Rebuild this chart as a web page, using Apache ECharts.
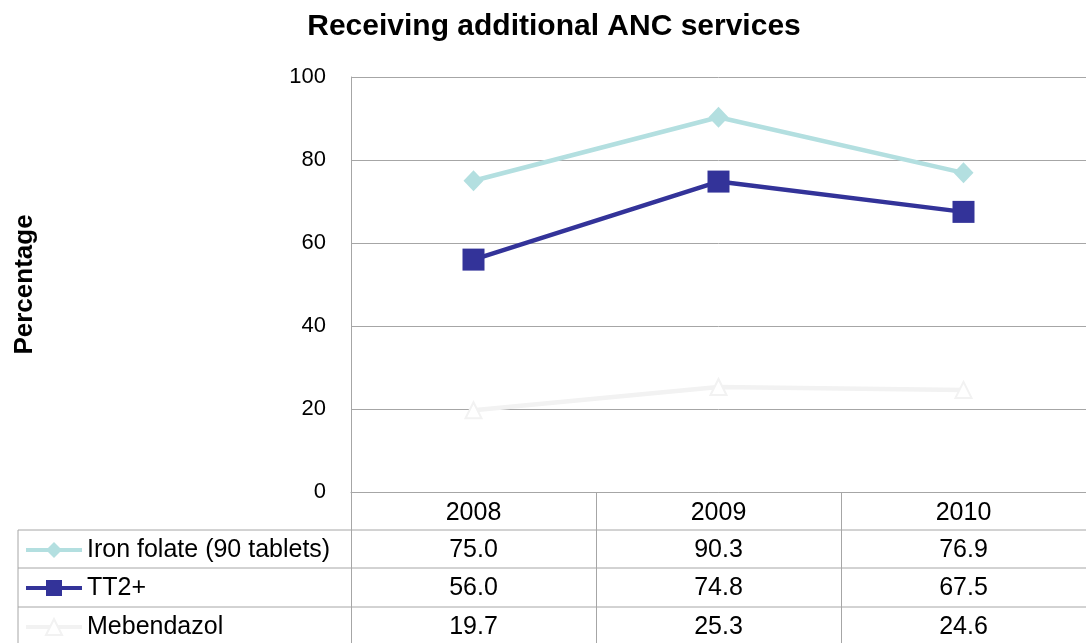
<!DOCTYPE html>
<html>
<head>
<meta charset="utf-8">
<script src="https://cdn.jsdelivr.net/npm/echarts@6/dist/echarts.min.js"></script>
<style>
html,body{margin:0;padding:0;background:#fff;}
#chart{width:1086px;height:643px;}
</style>
</head>
<body>
<div id="chart"></div>
<script>
const titleText = 'Receiving additional ANC services';
const yAxisName = 'Percentage';
const categories = ['2008', '2009', '2010'];
const seriesNames = ['Iron folate (90 tablets)', 'TT2+', 'Mebendazol'];
const ironFolate = [75.0, 90.3, 76.9];
const tt2 = [56.0, 74.8, 67.5];
const mebendazol = [19.7, 25.3, 24.6];
const yTicks = [0, 20, 40, 60, 80, 100];

const FONT = 'Liberation Sans, Arial, sans-serif';
const GRID_COLOR = '#a6a6a6';
const colors = ['#b3dfe0', '#333399', '#f2f2f2'];
const seriesData = [ironFolate, tt2, mebendazol];
const symbols = ['diamond', 'rect', 'triangle'];
const symbolSizes = [[20, 21], 22, 16];

const chart = echarts.init(document.getElementById('chart'), null, {renderer: 'canvas'});

const gridLeft = 351, gridTop = 77, gridWidth = 744, gridHeight = 415;
const rowY = [549, 587, 626];
const rowLines = [530, 568, 607];

const legends = seriesNames.map((n, i) => ({
  orient: 'vertical',
  left: 24, top: rowY[i] - 12,
  padding: 0,
  itemWidth: 56, itemHeight: 20,
  itemGap: 4,
  selectedMode: false,
  lineStyle: {width: 4},
  data: [n],
  textStyle: {fontFamily: FONT, fontSize: 25, color: '#000', lineHeight: 24, padding: [2, 0, 0, 0]}
}));

const option = {
  animation: false,
  backgroundColor: '#fff',
  title: {
    text: titleText,
    left: 549, top: 7, textAlign: 'center',
    textStyle: {fontFamily: FONT, fontSize: 30, fontWeight: 'bold', color: '#000'}
  },
  legend: legends,
  grid: {left: gridLeft, top: gridTop, width: gridWidth, height: gridHeight, containLabel: false},
  xAxis: {
    type: 'category',
    data: categories,
    boundaryGap: true,
    axisLine: {show: true, lineStyle: {color: GRID_COLOR, width: 1}},
    axisTick: {show: true, alignWithLabel: false, length: 160, lineStyle: {color: GRID_COLOR, width: 1}},
    axisLabel: {fontFamily: FONT, fontSize: 25, color: '#000', margin: 9},
    splitLine: {show: false}
  },
  yAxis: {
    type: 'value',
    min: 0, max: 100, interval: 20,
    name: yAxisName,
    nameLocation: 'middle',
    nameRotate: 90,
    nameGap: 313,
    nameTextStyle: {fontFamily: FONT, fontSize: 26, fontWeight: 'bold', color: '#000'},
    axisLine: {show: true, lineStyle: {color: GRID_COLOR, width: 1}},
    axisTick: {show: false},
    axisLabel: {fontFamily: FONT, fontSize: 22, color: '#000', margin: 25,
      formatter: v => yTicks.includes(v) ? String(v) : ''},
    splitLine: {show: true, lineStyle: {color: GRID_COLOR, width: 1}}
  },
  series: seriesNames.map((n, i) => ({
    name: n,
    type: 'line',
    data: seriesData[i],
    symbol: symbols[i],
    symbolSize: symbolSizes[i],
    showAllSymbol: true,
    lineStyle: {color: colors[i], width: 4.5},
    itemStyle: i === 2 ? {color: '#fff', borderColor: colors[i], borderWidth: 2} : {color: colors[i], borderWidth: 0},
    z: 3 - i
  }))
};
chart.setOption(option);

// table rows (horizontal lines, left border, values)
const graphics = [];
rowLines.forEach(y => {
  graphics.push({type: 'line', shape: {x1: 18, y1: y, x2: 1086, y2: y}, style: {stroke: GRID_COLOR, lineWidth: 1}, silent: true});
});
graphics.push({type: 'line', shape: {x1: 18, y1: rowLines[0], x2: 18, y2: 643}, style: {stroke: GRID_COLOR, lineWidth: 1}, silent: true});
seriesData.forEach((arr, r) => {
  arr.forEach((v, c) => {
    const x = chart.convertToPixel({xAxisIndex: 0}, categories[c]);
    graphics.push({
      type: 'text', x: x, y: rowY[r] + 1,
      style: {text: v.toFixed(1), fontFamily: FONT, fontSize: 25, fill: '#000', textAlign: 'center', textVerticalAlign: 'middle'},
      silent: true
    });
  });
});
chart.setOption({graphic: graphics});
</script>
</body>
</html>
